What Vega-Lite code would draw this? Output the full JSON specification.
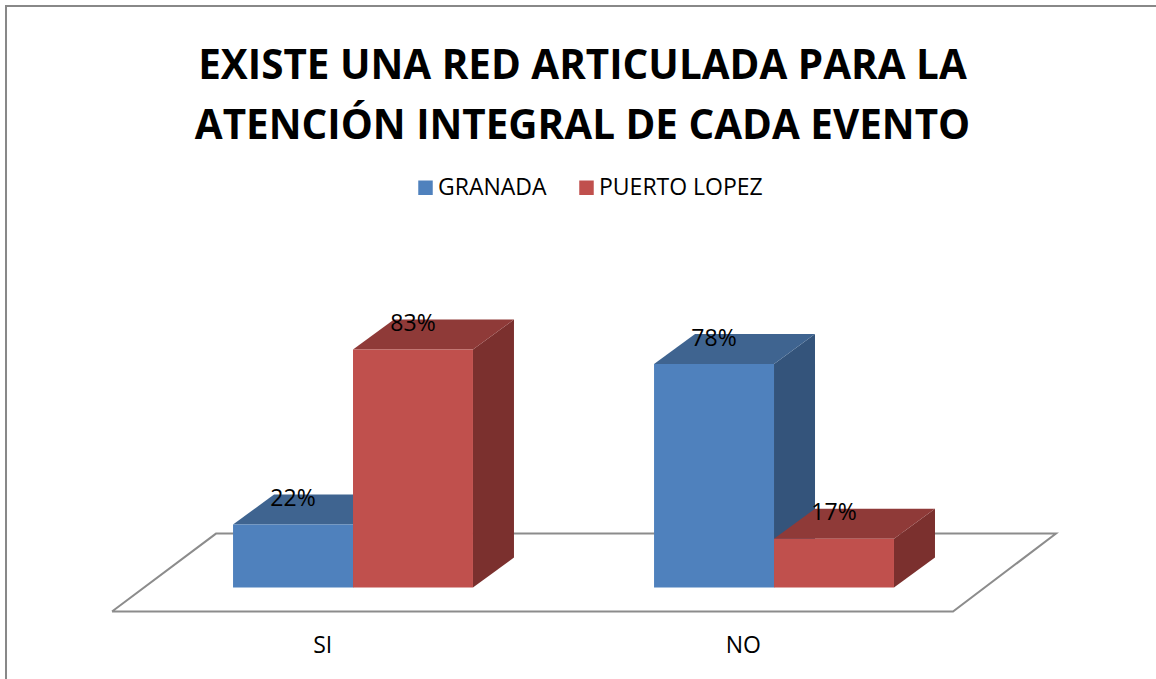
{
"$schema":"https://vega.github.io/schema/vega-lite/v6.json",
"width":1151,"height":674,
"autosize":{"type":"none"},
"padding":{"left":5,"top":5,"right":0,"bottom":0},
"background":"white",
"config":{"view":{"stroke":null},"text":{"font":"Open Sans"}},
"title":{"text":["EXISTE UNA RED ARTICULADA PARA LA","ATENCIÓN INTEGRAL DE CADA EVENTO"],"font":"Open Sans","fontWeight":"bold","fontSize":40.4,"color":"#000000","lineHeight":60,"anchor":"middle","frame":"group","dx":2,"offset":-143},
"datasets":{"barras":[
{"categoria":"SI","serie":"GRANADA","valor":22},
{"categoria":"SI","serie":"PUERTO LOPEZ","valor":83},
{"categoria":"NO","serie":"GRANADA","valor":78},
{"categoria":"NO","serie":"PUERTO LOPEZ","valor":17}
],"plano":[{"nombre":"base"}]},
"layer":[
{"data":{"name":"plano"},"mark":{"type":"rule","color":"#888888","strokeWidth":2,"clip":false},
 "encoding":{"x":{"datum":-0.2521,"type":"quantitative","scale":{"domain":[-0.2545,2.4827],"nice":false,"zero":false},"axis":{"values":[0.5,1.5],"labelExpr":"datum.value==0.5?'SI':'NO'","title":null,"domain":false,"ticks":false,"grid":false,"labelPadding":-45,"labelFont":"Open Sans","labelFontSize":23,"labelColor":"#000000","labelBaseline":"top","labelFlush":false,"labelOverlap":false}}}},
{"data":{"name":"plano"},"mark":{"type":"rule","color":"#888888","strokeWidth":2,"clip":false},
 "encoding":{"y":{"datum":202.85,"type":"quantitative","scale":{"domain":[-31.89,203.2],"nice":false,"zero":false},"axis":null}}},
{"data":{"name":"plano"},
 "transform":[{"calculate":"[0,2,2.2449,0.2473,0]","as":"xs"},{"calculate":"[-8.37,-8.37,18.83,18.83,-8.37]","as":"ys"},{"calculate":"[0,1,2,3,4]","as":"orden"},{"flatten":["xs","ys","orden"]}],
 "mark":{"type":"line","color":"#8c8c8c","strokeWidth":2,"strokeJoin":"miter"},
 "encoding":{"x":{"field":"xs","type":"quantitative","scale":{"domain":[-0.2545,2.4827],"nice":false,"zero":false}},
  "y":{"field":"ys","type":"quantitative","scale":{"domain":[-31.89,203.2],"nice":false,"zero":false},"axis":null},
  "order":{"field":"orden"}}},
{"data":{"name":"barras"},
 "transform":[
  {"calculate":"(datum.categoria=='SI'?0.2878:1.2890)+(datum.serie=='GRANADA'?0:0.2853)","as":"x0"},
  {"calculate":"datum.x0+0.2853","as":"x1"},
  {"calculate":"[0,1]","as":"t"},{"flatten":["t"]},
  {"calculate":"datum.x1+datum.t*0.0975","as":"xs"},
  {"calculate":"datum.t*10.46","as":"yb"},
  {"calculate":"datum.valor+datum.t*10.46","as":"yt"},
  {"calculate":"datum.categoria+datum.serie","as":"clave"}],
 "mark":{"type":"area","opacity":1},
 "encoding":{"x":{"field":"xs","type":"quantitative","scale":{"domain":[-0.2545,2.4827],"nice":false,"zero":false}},
  "y":{"field":"yt","type":"quantitative","scale":{"domain":[-31.89,203.2],"nice":false,"zero":false},"axis":null},
  "y2":{"field":"yb"},
  "detail":{"field":"clave"},
  "fill":{"condition":{"test":"datum.serie=='GRANADA'","value":"#34547B"},"value":"#7B302E"}}},
{"data":{"name":"barras"},
 "transform":[
  {"calculate":"(datum.categoria=='SI'?0.2878:1.2890)+(datum.serie=='GRANADA'?0:0.2853)","as":"x0"},
  {"calculate":"[0,1]","as":"t"},{"flatten":["t"]},
  {"calculate":"datum.x0+datum.t*0.0975","as":"xa"},
  {"calculate":"datum.x0+0.2853+datum.t*0.0975","as":"xb"},
  {"calculate":"datum.valor+datum.t*10.46","as":"yt"},
  {"calculate":"datum.categoria+datum.serie","as":"clave"}],
 "mark":{"type":"area","orient":"horizontal","opacity":1},
 "encoding":{"y":{"field":"yt","type":"quantitative","scale":{"domain":[-31.89,203.2],"nice":false,"zero":false},"axis":null},
  "x":{"field":"xa","type":"quantitative","scale":{"domain":[-0.2545,2.4827],"nice":false,"zero":false}},
  "x2":{"field":"xb"},
  "detail":{"field":"clave"},
  "fill":{"condition":{"test":"datum.serie=='GRANADA'","value":"#3F6490"},"value":"#8F3A38"}}},
{"data":{"name":"barras"},
 "transform":[
  {"calculate":"(datum.categoria=='SI'?0.2878:1.2890)+(datum.serie=='GRANADA'?0:0.2853)","as":"x0"},
  {"calculate":"datum.x0+0.2853","as":"x1"},
  {"calculate":"0","as":"base"}],
 "mark":{"type":"rect"},
 "encoding":{"x":{"field":"x0","type":"quantitative","scale":{"domain":[-0.2545,2.4827],"nice":false,"zero":false}},
  "x2":{"field":"x1"},
  "y":{"field":"valor","type":"quantitative","scale":{"domain":[-31.89,203.2],"nice":false,"zero":false},"axis":null},
  "y2":{"field":"base"},
  "color":{"field":"serie","type":"nominal","scale":{"domain":["GRANADA","PUERTO LOPEZ"],"range":["#4F81BD","#C0504D"]},
   "legend":{"title":null,"orient":"none","legendX":409,"legendY":171,"direction":"horizontal","columns":2,"symbolType":"square","symbolSize":210,"symbolStrokeWidth":0,"labelFont":"Open Sans","labelFontSize":23,"labelColor":"#000000","columnPadding":28,"labelOffset":1,"labelLimit":300}}}},
{"data":{"name":"barras"},
 "transform":[
  {"calculate":"(datum.categoria=='SI'?0.2878:1.2890)+(datum.serie=='GRANADA'?0:0.2853)+0.14265","as":"xc"},
  {"calculate":"datum.valor+8.85","as":"yl"},
  {"calculate":"datum.valor+'%'","as":"etiqueta"}],
 "mark":{"type":"text","font":"Open Sans","fontSize":23,"color":"#000000","align":"center","baseline":"middle"},
 "encoding":{"x":{"field":"xc","type":"quantitative","scale":{"domain":[-0.2545,2.4827],"nice":false,"zero":false}},
  "y":{"field":"yl","type":"quantitative","scale":{"domain":[-31.89,203.2],"nice":false,"zero":false},"axis":null},
  "text":{"field":"etiqueta"}}}
]
}
